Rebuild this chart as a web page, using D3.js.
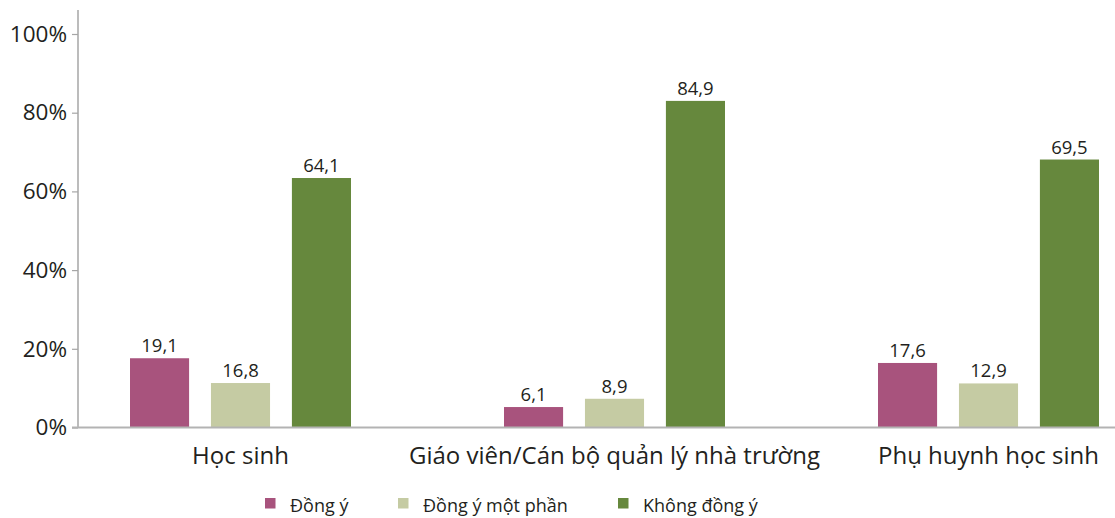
<!DOCTYPE html>
<html><head><meta charset="utf-8">
<script src="https://cdn.jsdelivr.net/npm/d3@7"></script>
<style>body{margin:0;background:#fff}svg{display:block}</style>
</head><body>
<script>
const categories = ["Học sinh", "Giáo viên/Cán bộ quản lý nhà trường", "Phụ huynh học sinh"];
const seriesNames = ["Đồng ý", "Đồng ý một phần", "Không đồng ý"];
const seriesColors = ["#A8537D", "#C5CBA3", "#66883D"];
// printed value labels
const labelsDongY = ["19,1", "6,1", "17,6"];
const labelsMotPhan = ["16,8", "8,9", "12,9"];
const labelsKhong = ["64,1", "84,9", "69,5"];
// bar heights as drawn in the picture (%)
const heightsDongY = [17.6, 5.2, 16.4];
const heightsMotPhan = [11.3, 7.3, 11.2];
const heightsKhong = [63.4, 83.0, 68.1];
const yTicks = [0, 20, 40, 60, 80, 100];

const W = 1115, H = 518;
const font = "'Open Sans', 'Noto Sans', sans-serif";
const svg = d3.select("body").append("svg").attr("width", W).attr("height", H);

const axisX = 78;
const y = d3.scaleLinear().domain([0, 100]).range([427.5, 34]);
const x0 = d3.scaleBand().domain(categories).range([53.5, 1175.5]);
const x1 = d3.scaleBand().domain(seriesNames).range([76.5, 297.5]).paddingInner(0.27);

const heights = [heightsDongY, heightsMotPhan, heightsKhong];
const labels = [labelsDongY, labelsMotPhan, labelsKhong];

// y axis
const yAxis = d3.axisLeft(y).tickValues(yTicks).tickSize(6).tickPadding(5).tickFormat(d => d + "%");
const gy = svg.append("g").attr("transform", `translate(${axisX},0)`).call(yAxis);
gy.select(".domain").remove();
gy.selectAll(".tick line").attr("stroke", "#a6a6a6").attr("stroke-width", 1.2);
gy.selectAll(".tick text").attr("font-family", font).attr("font-size", 22.5).attr("fill", "#231f20");
svg.append("line").attr("x1", axisX).attr("x2", axisX).attr("y1", 10).attr("y2", y(0))
  .attr("stroke", "#a6a6a6").attr("stroke-width", 1.5);

// bars
const data = [];
categories.forEach((c, ci) => seriesNames.forEach((s, si) => data.push({c, s, si, v: heights[si][ci], lab: labels[si][ci]})));
const groupLeft = c => x0(c) + x0.bandwidth() / 2 - 187;
svg.append("g").selectAll("rect").data(data).join("rect")
  .attr("x", d => groupLeft(d.c) + x1(d.s))
  .attr("width", x1.bandwidth())
  .attr("y", d => y(d.v))
  .attr("height", d => y(0) - y(d.v))
  .attr("fill", d => seriesColors[d.si]);

svg.append("g").selectAll("text").data(data).join("text")
  .attr("x", d => groupLeft(d.c) + x1(d.s) + x1.bandwidth() / 2)
  .attr("y", d => y(d.v) - 6)
  .attr("text-anchor", "middle")
  .attr("font-family", font).attr("font-size", 18.5).attr("fill", "#231f20")
  .text(d => d.lab);

// baseline
svg.append("line").attr("x1", 72).attr("x2", W).attr("y1", y(0)).attr("y2", y(0))
  .attr("stroke", "#b3b3b3").attr("stroke-width", 2);

// category labels
svg.append("g").selectAll("text").data(categories).join("text")
  .attr("x", c => x0(c) + x0.bandwidth() / 2)
  .attr("y", 464)
  .attr("text-anchor", "middle")
  .attr("font-family", font).attr("font-size", 24).attr("fill", "#231f20")
  .text(c => c);

// legend
const legendX = [265, 398, 618];
const lg = svg.append("g").selectAll("g").data(seriesNames).join("g")
  .attr("transform", (d, i) => `translate(${legendX[i]},0)`);
lg.append("rect").attr("x", 0).attr("y", 498).attr("width", 10.5).attr("height", 10.5)
  .attr("fill", (d, i) => seriesColors[i]);
lg.append("text").attr("x", 25).attr("y", 512).attr("font-family", font).attr("font-size", 18)
  .attr("fill", "#231f20").text(d => d);
</script>
</body></html>
